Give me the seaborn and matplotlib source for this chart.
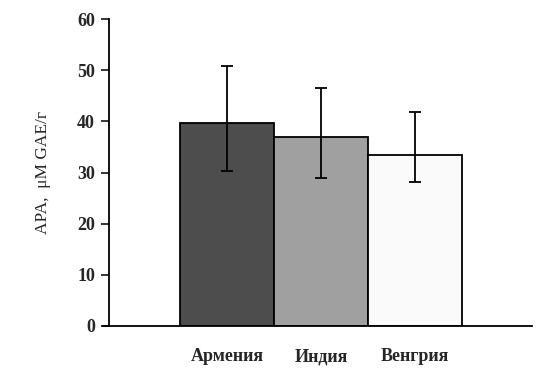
import pandas as pd
import matplotlib
matplotlib.use("Agg")
import matplotlib.pyplot as plt
import seaborn as sns

# Values
countries = ["Армения", "Индия", "Венгрия"]
apa_mean = [39.6, 37.0, 33.5]
err_low = [9.4, 8.0, 5.3]
err_high = [11.2, 9.6, 8.4]
bar_colors = ["#4d4d4d", "#a0a0a0", "#fafafa"]
y_ticks = [0, 10, 20, 30, 40, 50, 60]

data = pd.DataFrame({"country": countries, "apa": apa_mean})

sns.set_style("white")
plt.rcParams["font.family"] = ["Liberation Serif", "DejaVu Serif"]

fig = plt.figure(figsize=(5.6, 3.77), dpi=100)
ax = fig.add_axes([109 / 560, 1 - 326 / 377, 423 / 560, 307 / 377])

sns.barplot(
    data=data, x="country", y="apa", hue="country",
    palette=bar_colors, width=1.0, edgecolor="black", linewidth=1.3,
    errorbar=None, legend=False, ax=ax
)
ax.errorbar(
    range(len(countries)), apa_mean, yerr=[err_low, err_high],
    fmt="none", ecolor="black", elinewidth=1.3, capsize=4, capthick=1.3
)

ax.set_xlim(-1.255, 3.245)
ax.set_ylim(0, 60)
ax.set_yticks(y_ticks)
ax.set_yticklabels([str(t) for t in y_ticks], fontsize=13, fontweight="bold")
ax.set_xticks(range(len(countries)))
ax.set_xticklabels(countries, fontsize=13, fontweight="bold")
ax.tick_params(axis="y", direction="out", length=6, width=1.3, left=True, pad=4)
ax.tick_params(axis="x", length=0, pad=16)
ax.set_xlabel("")
ax.set_ylabel("APA,  μM GAE/г", fontsize=12.5, labelpad=19)

sns.despine(ax=ax, top=True, right=True)
for side in ["left", "bottom"]:
    ax.spines[side].set_color("black")
    ax.spines[side].set_linewidth(1.3)
ax.spines["bottom"].set_bounds(-1.255 - 6 / 94, 3.245)
ax.spines["bottom"].set_clip_on(False)

fig.savefig("out.png", dpi=100)
